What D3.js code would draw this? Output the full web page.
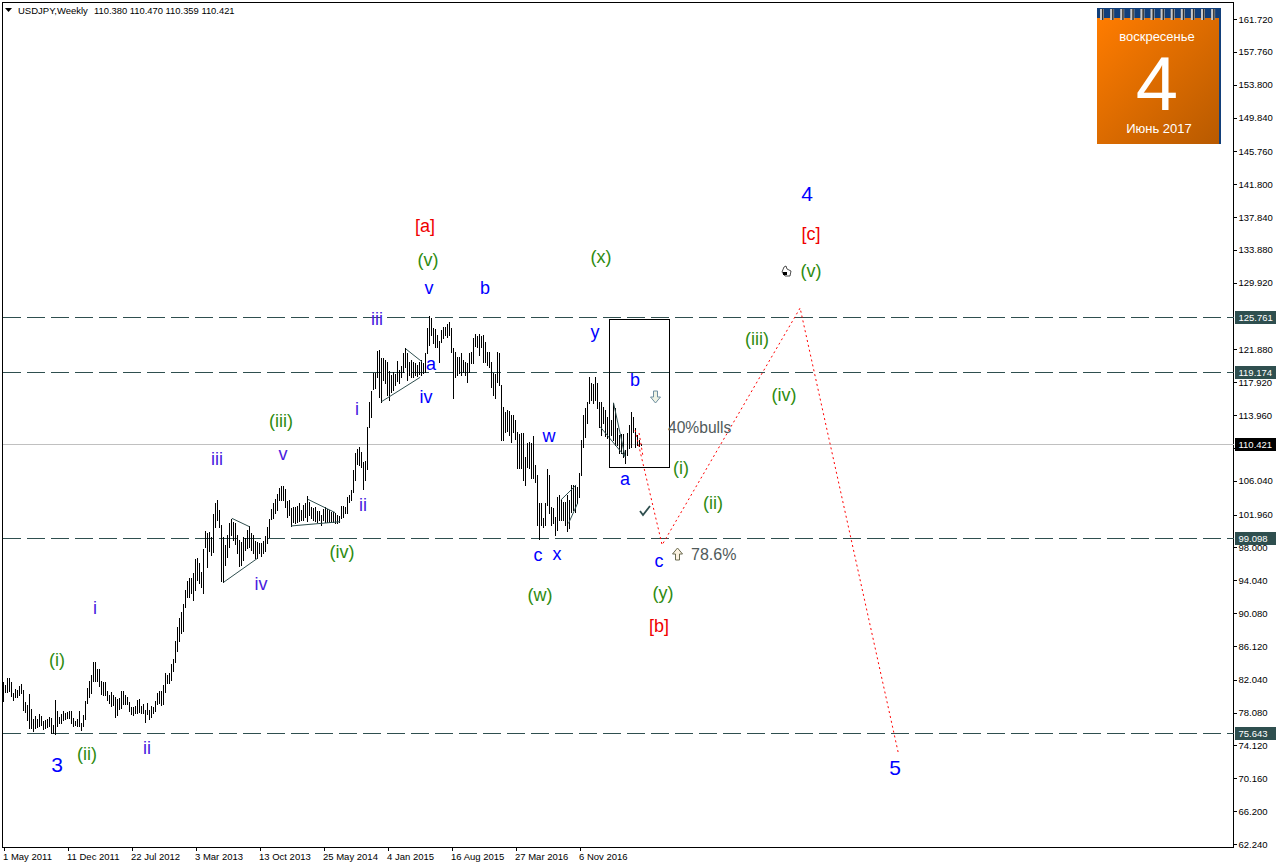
<!DOCTYPE html>
<html><head><meta charset="utf-8">
<script src="https://cdn.jsdelivr.net/npm/d3@7/dist/d3.min.js"></script>
<style>
html,body{margin:0;padding:0;background:#fff}
svg{display:block}
text{font-family:"Liberation Sans",Arial,sans-serif}
</style></head><body>
<svg id="c" width="1276" height="868"></svg>
<script>
const highs=[81.77,81.36,82.25,82.25,81.77,80.40,80.96,80.80,81.28,81.53,80.80,79.35,78.95,80.32,78.55,77.26,77.67,77.34,77.91,77.67,
77.10,77.18,77.34,77.51,77.43,76.58,79.60,78.31,77.59,77.91,78.23,78.07,78.15,78.23,78.23,77.43,77.02,77.26,78.31,76.86,
77.75,79.44,81.04,81.85,82.65,84.18,84.18,83.37,83.37,81.93,81.77,81.77,80.72,80.24,80.56,80.24,79.92,79.76,79.84,80.64,
80.64,80.16,79.92,79.35,78.79,78.71,78.87,79.60,79.68,78.87,79.11,78.39,79.19,78.39,78.87,78.79,79.44,80.48,80.64,80.64,
81.45,82.81,82.65,82.81,83.94,84.58,86.67,88.36,89.49,90.21,91.17,92.87,93.99,94.32,94.32,94.88,96.65,96.73,96.08,95.04,
97.77,99.94,99.78,99.86,99.30,102.03,103.32,103.72,102.52,100.67,99.30,98.25,99.50,100.99,101.47,101.11,100.91,99.50,98.90,98.70,
99.22,99.10,100.10,100.59,99.70,99.50,98.82,98.70,98.50,98.58,98.82,99.38,100.43,101.39,102.60,103.32,103.88,104.45,105.13,105.41,
105.41,105.01,103.64,103.72,102.72,102.84,102.84,103.00,103.32,102.52,103.12,103.40,104.20,103.48,102.84,102.72,102.84,102.44,102.44,101.91,
102.60,102.84,102.60,102.52,102.31,102.31,102.11,101.91,101.79,103.00,103.00,102.84,104.12,104.32,104.93,107.34,109.43,109.83,110.15,109.55,
108.34,108.47,112.49,115.58,116.91,119.08,119.08,121.73,121.81,120.80,120.80,120.60,120.40,119.32,118.79,119.20,118.92,120.52,119.40,119.88,
121.41,122.01,121.49,120.40,120.60,120.40,120.20,120.00,120.40,120.60,120.20,121.49,124.46,125.91,125.63,124.42,124.30,123.62,122.94,124.22,
124.54,124.62,124.95,125.23,124.42,122.01,121.61,121.01,121.01,121.49,120.60,120.40,120.20,121.41,121.61,123.22,123.74,123.50,123.74,123.54,
123.62,122.81,121.61,121.61,120.40,119.00,118.92,121.61,121.41,117.59,114.97,114.37,114.57,114.49,113.97,113.97,113.36,111.96,111.68,111.84,
111.84,108.94,110.55,110.75,110.55,111.43,107.94,106.73,103.31,103.31,101.50,103.31,107.41,106.73,102.91,102.71,101.71,104.12,104.32,103.72,
103.51,103.51,104.32,103.72,105.52,105.52,105.52,105.32,106.93,110.95,113.97,114.77,115.57,118.59,117.87,117.71,118.59,117.79,115.57,115.57,
114.97,114.57,113.77,113.56,113.36,115.37,114.77,112.36,111.55,111.68,111.68,109.75,111.76,112.76,114.37,113.77,112.36,111.55,110.95,110.47];
const lows=[79.52,80.56,80.56,80.72,80.08,79.60,80.00,80.00,80.24,80.40,78.39,78.15,77.18,76.22,76.22,75.82,76.22,76.30,76.46,76.54,
76.06,76.22,76.38,76.46,75.66,75.66,75.50,76.46,76.86,76.78,77.18,77.34,77.43,77.43,76.78,76.46,76.54,76.46,76.46,75.98,
76.46,77.34,79.27,80.00,80.40,81.85,81.93,81.85,81.28,80.32,80.24,80.24,79.60,79.19,78.87,78.95,77.59,77.83,78.55,78.63,
79.11,79.11,79.11,78.31,77.91,77.83,78.07,78.07,78.15,77.99,77.99,76.94,77.91,77.34,77.59,78.07,78.31,79.11,79.19,79.03,
79.11,80.56,81.61,81.69,82.01,83.13,84.18,85.55,86.75,87.72,87.96,90.86,92.06,92.06,92.47,91.66,92.87,94.07,93.67,93.27,
92.55,98.01,95.68,97.61,97.05,97.49,100.51,101.31,100.51,93.91,93.83,95.84,96.89,98.09,99.50,98.90,98.42,97.29,95.76,95.92,
96.49,97.69,97.89,98.01,97.69,97.29,96.69,96.69,97.29,96.97,97.29,97.61,98.50,99.30,101.47,101.51,102.11,102.52,103.72,103.72,
103.72,102.92,101.63,101.91,100.59,101.11,100.91,101.11,101.23,101.31,101.31,101.63,101.23,101.91,101.51,101.31,101.23,101.11,101.31,100.71,
101.31,101.11,101.07,101.11,101.11,101.07,100.99,100.99,101.07,101.51,101.71,102.11,102.19,103.52,103.72,104.73,106.13,108.06,107.94,107.74,
105.01,106.13,107.42,112.56,113.77,117.07,117.19,118.59,116.18,115.58,118.19,117.79,116.38,115.78,116.78,116.99,117.59,118.11,117.79,118.51,
119.20,119.80,118.19,118.79,118.51,118.59,118.79,118.67,118.92,118.79,119.00,119.20,121.41,122.41,123.62,122.61,122.21,122.21,120.40,122.81,
123.22,123.62,123.42,123.62,121.61,116.06,118.51,118.79,119.00,118.79,119.20,118.79,117.99,119.20,120.20,120.20,122.29,122.21,121.21,122.21,
120.40,120.40,120.00,119.80,117.31,116.38,115.98,117.99,117.59,110.96,110.95,111.96,112.08,111.55,110.75,111.96,111.03,107.62,107.62,107.53,
106.13,105.52,107.74,107.53,106.33,106.33,105.93,100.70,98.97,100.70,100.50,100.70,103.11,102.11,100.70,100.90,99.49,100.10,101.30,101.30,
101.30,100.70,100.02,100.30,102.31,102.51,102.31,103.31,104.12,106.73,110.15,111.35,112.96,115.37,115.78,115.37,115.78,114.77,112.56,111.55,
112.96,111.43,111.15,110.95,111.55,110.95,110.35,110.35,109.42,109.34,108.94,108.14,109.14,109.95,110.15,111.96,110.07,110.35,110.23,110.359];

const priceTicks=[161.72,157.76,153.8,149.84,145.76,141.8,137.84,133.88,129.92,121.88,117.92,113.96,110,106.04,101.96,98,94.04,90.08,86.12,82.04,78.08,74.12,70.16,66.2,62.24];
const levelPrices=[125.761,119.174,99.098,75.643];
const lastPrice=110.421;
const dateTickBars=[0,32,64,96,128,160,192,224,256,288];
const dateLabels=["1 May 2011","11 Dec 2011","22 Jul 2012","3 Mar 2013","13 Oct 2013","25 May 2014","4 Jan 2015","16 Aug 2015","27 Mar 2016","6 Nov 2016"];

const patternLines=[
 [[114.2,101.51],[123,100.5]],[[110,93.79],[127,96.69]],
 [[152.2,103.8],[165.8,102.2]],[[143.8,100.59],[168.3,101.1]],
 [[201.2,121.93],[209.2,120.4]],[[189,115.58],[208.3,118.51]],
 [[278.7,103.72],[286.3,105.52]],[[282.5,100.9],[287,103.3]],
 [[305,115.45],[310.8,108.94]],[[298.3,112.56],[310.8,108.94]]];
const forecastPath=[[315.8,112.16],[329.3,98.3],[398.3,126.87],[447.3,73.33]];
const forecastShort=[[317.8,111.8],[319.8,108.9]];
const boxBars=[302.8,332.8];
const boxPrices=[125.5,107.7];

const waveLabels=["[a]","(v)","v","b","iii","a","iv","i","(iii)","v","iii","ii","(iv)","iv","i","(i)","(ii)","ii","3","(x)","y","b","w","c","x","(w)","a","(i)","(ii)","c","(y)","[b]","(iii)","(iv)","(v)","[c]","4","5"];
const waveBars=[210.75,212.25,212.75,240.75,186.75,213.75,211.25,176.75,138.75,139.75,106.75,179.75,169.25,128.75,45.75,26.75,41.75,71.75,26.75,298.75,295.75,315.75,272.75,267.25,276.75,268.25,310.75,338.75,354.75,327.75,329.75,327.75,376.75,390.25,403.75,403.75,401.75,445.75];
const wavePrices=[136.76,132.66,129.28,129.28,125.54,120.12,116.14,114.69,113.25,109.27,108.66,103.12,97.45,93.59,90.7,84.43,73.09,73.81,71.77,133.02,123.98,118.19,111.44,97.09,97.21,92.25,106.25,107.58,103.36,96.36,92.5,88.53,123.13,116.38,131.33,135.79,140.62,71.41];
const waveKinds=["r","g","b","b","p","b","b","p","g","p","p","p","g","p","p","g","g","p","B","g","b","b","b","b","b","g","b","g","g","b","g","r","g","g","g","r","B","B"];

const svg=d3.select("#c");
const L=2.5,T=2.5,R=1233.5,B=847.5;
const x=d3.scaleLinear().domain([0,319]).range([3.5,641.5]);
const y=d3.scaleLinear().domain([161.72,62.24]).range([19,844]);
const DK="#2f4f4f";

svg.append("rect").attr("x",L).attr("y",T).attr("width",R-L).attr("height",B-T).attr("fill","#fff").attr("stroke","#000").attr("shape-rendering","crispEdges");

svg.append("line").attr("x1",L).attr("x2",R).attr("y1",Math.round(y(lastPrice))+.5).attr("y2",Math.round(y(lastPrice))+.5).attr("stroke","#c0c0c0").attr("shape-rendering","crispEdges");

svg.selectAll("line.lv").data(levelPrices).join("line").attr("class","lv")
 .attr("x1",3).attr("x2",R).attr("y1",d=>Math.round(y(d))+.5).attr("y2",d=>Math.round(y(d))+.5)
 .attr("stroke",DK).attr("stroke-dasharray","18 6").attr("shape-rendering","crispEdges");

svg.append("g").selectAll("line").data(highs).join("line")
 .attr("x1",(d,i)=>x(i)).attr("x2",(d,i)=>x(i))
 .attr("y1",d=>Math.round(y(d))).attr("y2",(d,i)=>Math.round(y(lows[i]))+1)
 .attr("stroke","#000").attr("shape-rendering","crispEdges");

svg.append("g").selectAll("line").data(patternLines).join("line")
 .attr("x1",d=>x(d[0][0])).attr("y1",d=>y(d[0][1])).attr("x2",d=>x(d[1][0])).attr("y2",d=>y(d[1][1]))
 .attr("stroke",DK).attr("stroke-width",1);

svg.append("rect").attr("x",Math.round(x(boxBars[0]))+.5).attr("y",Math.round(y(boxPrices[0]))+.5)
 .attr("width",Math.round(x(boxBars[1])-x(boxBars[0]))).attr("height",Math.round(y(boxPrices[1])-y(boxPrices[0])))
 .attr("fill","none").attr("stroke","#000").attr("shape-rendering","crispEdges");

const ln=d3.line().x(d=>x(d[0])).y(d=>y(d[1]));
[forecastPath,forecastShort].forEach(p=>svg.append("path").attr("d",ln(p)).attr("fill","none").attr("stroke","#f00").attr("stroke-dasharray","2 3"));

const colors={r:"#f00000",g:"#2e8b10",b:"#0000ff",p:"#4a20e0",B:"#0000ff"};
svg.append("g").selectAll("text").data(waveLabels).join("text")
 .attr("x",(d,i)=>x(waveBars[i])).attr("y",(d,i)=>y(wavePrices[i]))
 .attr("text-anchor","middle").attr("dominant-baseline","central")
 .attr("font-size",(d,i)=>waveKinds[i]==="B"?21:18)
 .attr("fill",(d,i)=>colors[waveKinds[i]]).text(d=>d);

svg.append("text").attr("x",668).attr("y",433).attr("font-size",15.6).attr("fill","#505a5a").text("40%bulls");
svg.append("text").attr("x",691).attr("y",560).attr("font-size",16).attr("fill","#505a5a").text("78.6%");

const arrow="M0,-6 L5,0 L2,0 L2,6 L-2,6 L-2,0 L-5,0 Z";
svg.append("path").attr("d",arrow).attr("transform","translate(655.5,397) rotate(180)").attr("fill","#eef2e4").attr("stroke","#6f8fa0");
svg.append("path").attr("d",arrow).attr("transform","translate(677.5,554)").attr("fill","#fdf3e0").attr("stroke","#6a6a50");
svg.append("path").attr("d","M640,511 L643,515 L650,506").attr("fill","none").attr("stroke",DK).attr("stroke-width",1.8);
svg.append("path").attr("d","M784,267 L786,266 L787,269 L791,271 L790,276 L785,276 L782,272 Z").attr("fill","#fff").attr("stroke","#222").attr("stroke-width",.8);
svg.append("rect").attr("x",783).attr("y",272).attr("width",4).attr("height",3).attr("fill","#000");

const ya=d3.axisRight(y).tickValues(priceTicks).tickSize(3).tickPadding(2).tickFormat(d3.format(".3f"));
const yg=svg.append("g").attr("transform",`translate(${R},0)`).call(ya);
yg.select(".domain").remove();
yg.selectAll("text").attr("font-size",9.5).attr("font-family","'Liberation Sans',Arial,sans-serif").attr("fill","#000");
yg.selectAll("line").attr("stroke","#000").attr("shape-rendering","crispEdges");

const xa=d3.axisBottom(x).tickValues(dateTickBars).tickSize(3).tickPadding(3).tickFormat((d,i)=>dateLabels[i]);
const xg=svg.append("g").attr("transform",`translate(0,${B})`).call(xa);
xg.select(".domain").remove();
xg.selectAll("text").attr("text-anchor","start").attr("dx",-1).attr("font-size",9.5).attr("font-family","'Liberation Sans',Arial,sans-serif").attr("fill","#000");
xg.selectAll("line").attr("stroke","#000").attr("shape-rendering","crispEdges");

const tags=levelPrices.map(p=>({p,bg:DK})).concat([{p:lastPrice,bg:"#000"}]);
const tg=svg.append("g").selectAll("g").data(tags).join("g").attr("transform",d=>`translate(1235,${Math.round(y(d.p))})`);
tg.append("rect").attr("x",0).attr("y",-6).attr("width",41).attr("height",13).attr("fill",d=>d.bg);
tg.append("text").attr("x",3.5).attr("y",3.6).attr("font-size",9.5).attr("fill","#fff").text(d=>d3.format(".3f")(d.p));

svg.append("path").attr("d","M5,8 L12,8 L8.5,12 Z").attr("fill","#000");
svg.append("text").attr("x",18).attr("y",14).attr("font-size",9.5).attr("fill","#000").text("USDJPY,Weekly");
svg.append("text").attr("x",94).attr("y",14).attr("font-size",9.4).attr("fill","#000").text("110.380 110.470 110.359 110.421");

const defs=svg.append("defs");
const g=defs.append("linearGradient").attr("id","cal").attr("x1","0").attr("y1","0").attr("x2","1").attr("y2","1");
g.append("stop").attr("offset","0").attr("stop-color","#ff7c00");
g.append("stop").attr("offset","1").attr("stop-color","#b85a00");
svg.append("rect").attr("x",1097).attr("y",8).attr("width",124).attr("height",136).attr("fill","#123f7a");
svg.append("rect").attr("x",1097).attr("y",18).attr("width",122).attr("height",126).attr("fill","url(#cal)");
d3.range(12).forEach(k=>{
 svg.append("rect").attr("x",1100+k*10.1).attr("y",9).attr("width",4).attr("height",11).attr("fill","#c8c8c8");
 svg.append("rect").attr("x",1102+k*10.1).attr("y",9).attr("width",1.5).attr("height",11).attr("fill","#333");
});
svg.append("text").attr("x",1157).attr("y",41).attr("text-anchor","middle").attr("font-size",13).attr("fill","#fff").text("воскресенье");
svg.append("text").attr("x",1157).attr("y",110).attr("text-anchor","middle").attr("font-size",76).attr("font-family","'Open Sans',sans-serif").attr("font-weight",300).attr("fill","#fff").text("4");
svg.append("text").attr("x",1159).attr("y",133).attr("text-anchor","middle").attr("font-size",13).attr("fill","#fff").text("Июнь 2017");
</script>
</body></html>
